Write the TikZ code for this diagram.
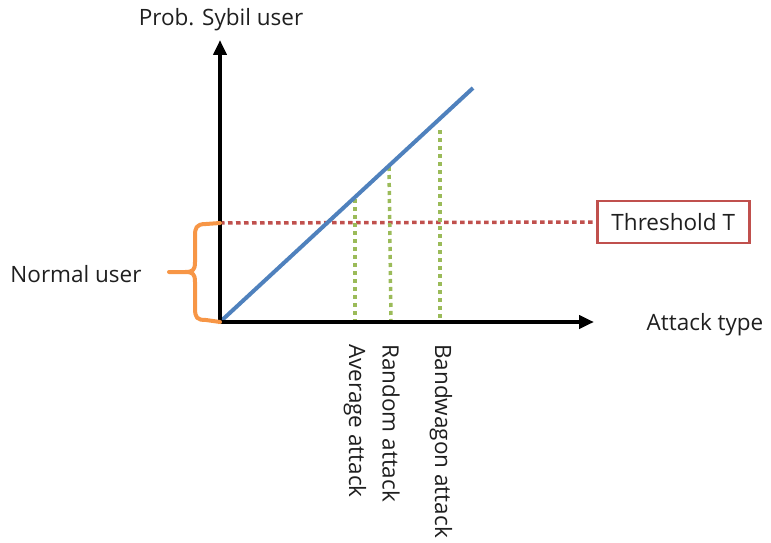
\documentclass[tikz,border=0pt]{standalone}
\usepackage{fontspec}
\setmainfont{Open Sans}
\usetikzlibrary{arrows.meta}
\definecolor{oblue}{HTML}{4F81BD}
\definecolor{ored}{HTML}{C0504D}
\definecolor{ogreen}{HTML}{9BBB59}
\definecolor{oorange}{HTML}{F79646}
\begin{document}
\begin{tikzpicture}[x=1pt,y=-1pt,
  lbl/.style={font=\fontsize{22.5}{26}\selectfont, inner sep=0pt, text=black!88},
  axis/.style={line width=4pt, -{Triangle[length=15pt,width=13pt]}},
  gdot/.style={ogreen, line width=3.5pt, dash pattern=on 4pt off 4pt},
  rdot/.style={ored, line width=3.5pt, dash pattern=on 4.5pt off 3.5pt},
  vlbl/.style={lbl, rotate=-90, anchor=west}]
\useasboundingbox (0,0) rectangle (771,543);
\coordinate (O) at (220,322);
\coordinate (ytop) at (220,40);
\coordinate (xend) at (594,322);
\coordinate (lineend) at (473,88);
\coordinate (tl) at (220,223);
% threshold box
\node[lbl, draw=ored, line width=2.5pt, minimum width=152pt, minimum height=42pt, anchor=west] (thr) at (596,222) {Threshold T};
% red dotted threshold
\draw[rdot] (tl) -- (thr.west);
% green dotted lines
\coordinate (g1t) at (355,199);
\coordinate (g1b) at (355,322);
\coordinate (g2t) at (389,167);
\coordinate (g2b) at (391,322);
\coordinate (g3t) at (440,130);
\coordinate (g3b) at (440,322);
\draw[gdot] (g1t) -- (g1b);
\draw[gdot] (g2t) -- (g2b);
\draw[gdot] (g3t) -- (g3b);
% blue line
\draw[oblue, line width=4pt] (O) -- (lineend);
% axes
\draw[axis] (220,324) -- (ytop);
\draw[axis] (218,322) -- (xend);
% brace
\draw[oorange, line width=4pt, line cap=round, line join=round]
  (tl) -- (206,224) .. controls (196,224) and (195,228) .. (195,236)
  -- (195,262) .. controls (195,270) and (193,272) .. (185,272) -- (169,272)
  (185,272) .. controls (193,272) and (195,274) .. (195,282)
  -- (195,308) .. controls (195,318) and (197,320) .. (206,320) -- (O);
% labels
\node[lbl] (ylab) at (221,20) {Prob. Sybil user};
\node[lbl] (xlab) at (705,325) {Attack type};
\node[lbl] (nlab) at (76,274) {Normal user};
\node[vlbl] (a1) at (355,344) {Average attack};
\node[vlbl] (a2) at (391,344) {Random attack};
\node[vlbl] (a3) at (441,344) {Bandwagon attack};
\end{tikzpicture}
\end{document}
